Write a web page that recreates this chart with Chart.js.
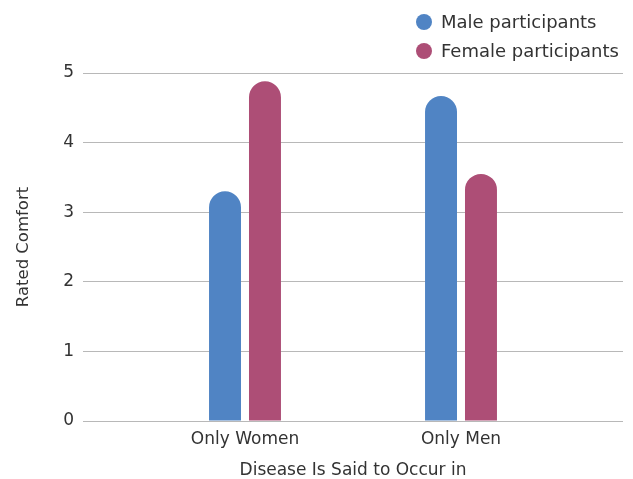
<!DOCTYPE html>
<html>
<head>
<meta charset="utf-8">
<script src="https://cdn.jsdelivr.net/npm/chart.js@4/dist/chart.umd.min.js"></script>
<style>
  html, body { margin: 0; padding: 0; background: #fff; }
  #wrap { position: relative; width: 633px; height: 479px; }
  #legend { position: absolute; left: 416px; top: 7px; font: 18px "DejaVu Sans"; color: #333; }
  #legend .row { display: flex; align-items: center; height: 29px; }
  #legend .dot { width: 16px; height: 16px; border-radius: 50%; margin-right: 9px; }
</style>
</head>
<body>
<div id="wrap">
  <canvas id="chart"></canvas>
  <div id="legend"></div>
</div>
<script>
const categories = ["Only Women", "Only Men"];
const maleValues = [3.3, 4.67];
const femaleValues = [4.88, 3.55];
const yTicks = [0, 1, 2, 3, 4, 5];

const font = "DejaVu Sans";

// categories sit at x = 1, 2 on a linear axis so the side margins match
const toPoints = (vals) => vals.map((v, i) => ({ x: i + 1, y: v }));

const ctx = document.querySelector("#chart");

const chart = new Chart(ctx, {
  type: "bar",
  data: {
    datasets: [
      {
        label: "Male participants",
        data: toPoints(maleValues),
        backgroundColor: "#5084c4",
        borderRadius: 16,
        borderSkipped: "start",
      },
      {
        label: "Female participants",
        data: toPoints(femaleValues),
        backgroundColor: "#ad4e76",
        borderRadius: 16,
        borderSkipped: "start",
      },
    ],
  },
  options: {
    responsive: true,
    maintainAspectRatio: false,
    animation: false,
    categoryPercentage: 0.37,
    barPercentage: 0.8,
    layout: { padding: { top: 73, right: 10, left: 10, bottom: 0 } },
    plugins: {
      tooltip: { enabled: false },
      legend: { display: false },
    },
    scales: {
      x: {
        type: "linear",
        offset: false,
        min: 0.25,
        max: 2.75,
        afterBuildTicks(scale) {
          scale.ticks = categories.map((c, i) => ({ value: i + 1 }));
        },
        afterFit(scale) {
          scale.height = 58;
        },
        ticks: {
          color: "#333",
          padding: 8,
          font: { family: font, size: 17 },
          callback: (v) => categories[v - 1],
        },
        grid: { display: false, drawTicks: false },
        border: { display: false },
        title: {
          display: true,
          text: "Disease Is Said to Occur in",
          color: "#333",
          padding: { top: 10, bottom: 0 },
          font: { family: font, size: 17, lineHeight: 1 },
        },
      },
      y: {
        min: 0,
        max: 5,
        afterBuildTicks(scale) {
          scale.ticks = yTicks.map((v) => ({ value: v }));
        },
        afterFit(scale) {
          scale.width = 73;
        },
        ticks: {
          color: "#333",
          padding: 9,
          font: { family: font, size: 17 },
        },
        grid: { color: "#b8b8b8", drawTicks: false },
        border: { display: false },
        title: {
          display: true,
          text: "Rated Comfort",
          color: "#333",
          padding: 4,
          font: { family: font, size: 16.5 },
        },
      },
    },
  },
});

// legend rows, one per dataset
const legend = document.querySelector("#legend");
chart.data.datasets.forEach((ds) => {
  const row = document.createElement("div");
  row.className = "row";
  const dot = document.createElement("span");
  dot.className = "dot";
  dot.style.background = ds.backgroundColor;
  const label = document.createElement("span");
  label.textContent = ds.label;
  row.append(dot, label);
  legend.append(row);
});
</script>
</body>
</html>
